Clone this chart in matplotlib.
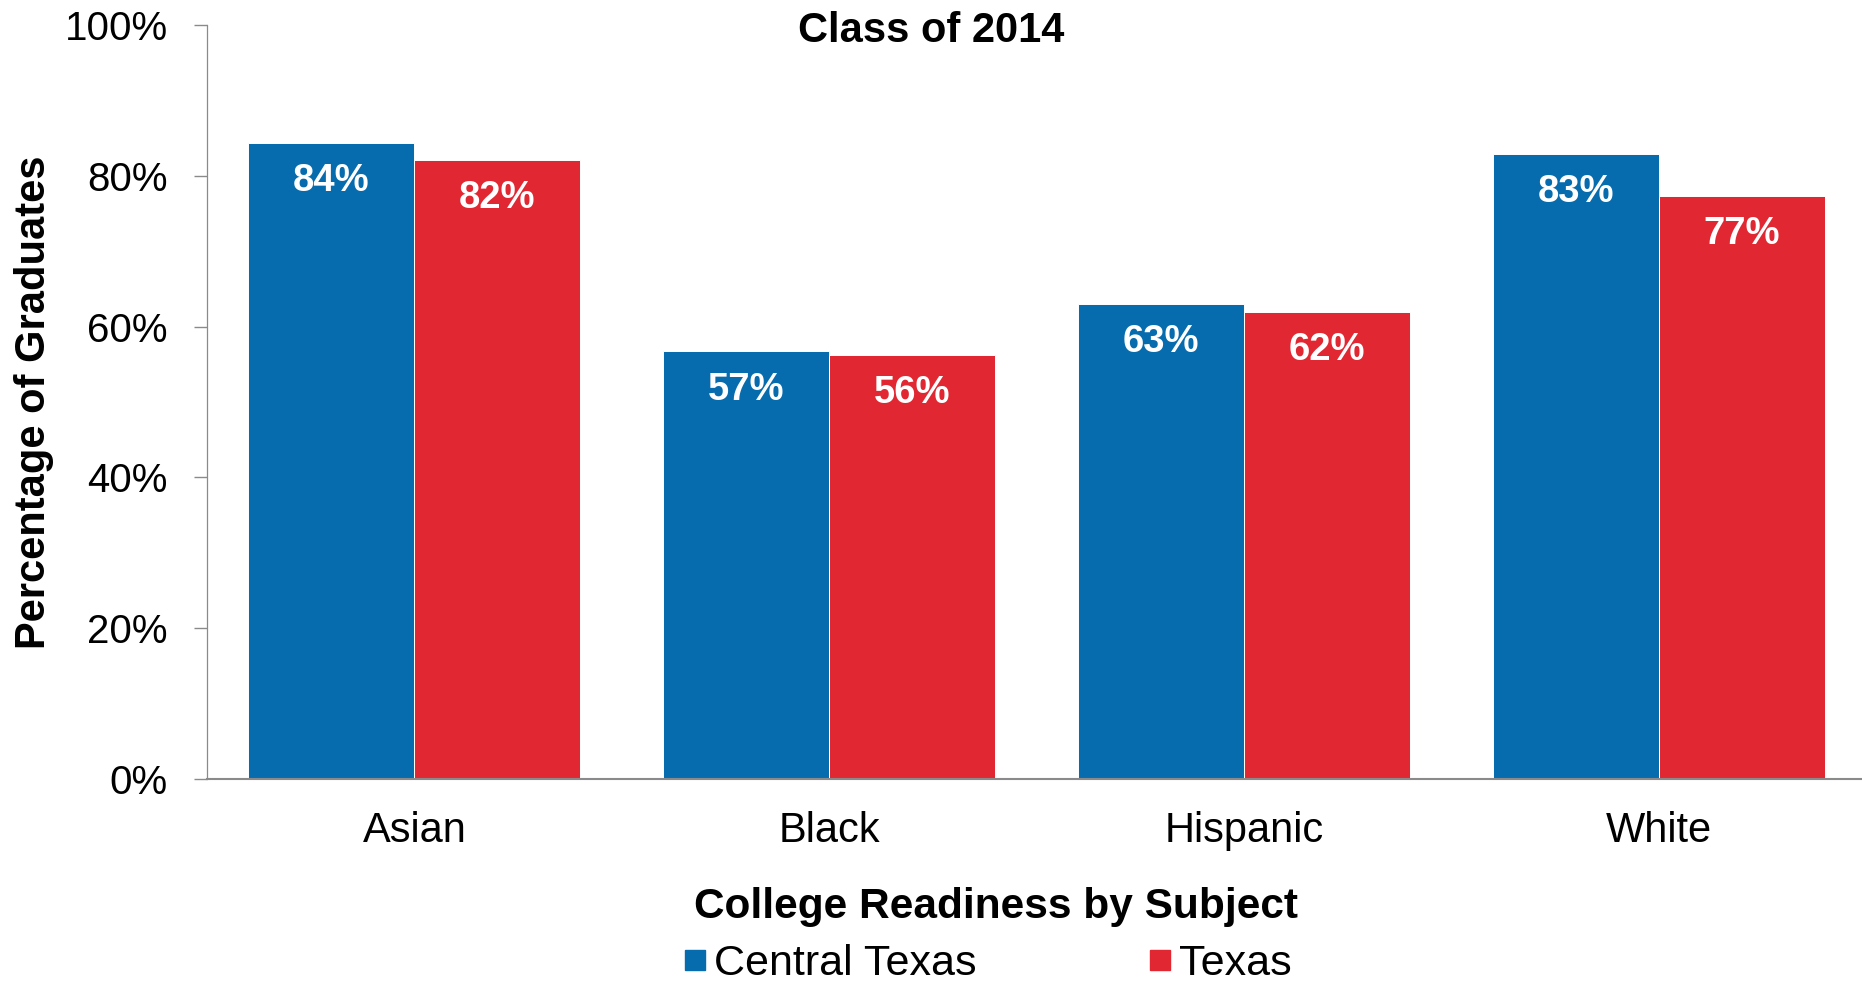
import numpy as np
import matplotlib
matplotlib.use("agg")
import matplotlib.pyplot as plt
from matplotlib.lines import Line2D

# data
groups = ["Asian", "Black", "Hispanic", "White"]
central_texas = [84.4, 56.7, 63.0, 82.9]
texas = [82.1, 56.2, 61.9, 77.3]
series_names = ["Central Texas", "Texas"]
yticks = [0, 20, 40, 60, 80, 100]

blue = "#066cae"
red = "#e12832"
gray = "#8a8a8a"

plt.rcParams["font.family"] = ["Liberation Sans", "DejaVu Sans"]

W, H = 1862, 983
fig = plt.figure(figsize=(W / 100, H / 100), dpi=100)
ax = fig.add_axes([207 / W, 1 - 779 / H, 1 - 207 / W, (779 - 25) / H])

x = np.arange(len(groups))
bw = 0.4
b1 = ax.bar(x - bw / 2, central_texas, bw, color=blue, edgecolor="white", linewidth=0.7)
b2 = ax.bar(x + bw / 2, texas, bw, color=red, edgecolor="white", linewidth=0.7)

for bars in (b1, b2):
    for rect in bars:
        v = rect.get_height()
        ax.annotate("{:.0f}%".format(v), (rect.get_x() + rect.get_width() / 2, v),
                    xytext=(0, -27.5), textcoords="offset points",
                    ha="center", va="center", color="white",
                    fontsize=27.5, fontweight="bold")

ax.set_xlim(-0.5, 3.49)
ax.set_ylim(0, 100)
ax.set_yticks(yticks)
ax.set_yticklabels(["{}%".format(t) for t in yticks])
ax.set_xticks(x)
ax.set_xticklabels(groups)

for s in ("top", "right"):
    ax.spines[s].set_visible(False)
ax.spines["left"].set_color(gray)
ax.spines["left"].set_linewidth(0.9)
ax.spines["bottom"].set_color(gray)
ax.spines["bottom"].set_linewidth(1.5)

ax.tick_params(axis="y", length=9.4, width=1.0, color=gray, pad=19, labelsize=29)
ax.tick_params(axis="x", length=0, pad=23, labelsize=30)

ax.set_ylabel("Percentage of Graduates", fontsize=30, fontweight="bold")
ax.yaxis.set_label_coords(54 / W, 1 - 402 / H, transform=fig.transFigure)

fig.text(931 / W, 1 - 42 / H, "Class of 2014", ha="center", va="baseline",
         fontsize=30, fontweight="bold")
fig.text(996 / W, 1 - 918 / H, "College Readiness by Subject", ha="center", va="baseline",
         fontsize=30.5, fontweight="bold")

handles = [Line2D([], [], linestyle="none", marker="s", markersize=15, color=c)
           for c in (blue, red)]
fig.legend(handles, series_names, loc="center", bbox_to_anchor=(988 / W, 1 - 964 / H),
           ncol=2, frameon=False, fontsize=31, handlelength=0.5, handletextpad=0.2,
           columnspacing=4.0, borderpad=0, borderaxespad=0)

fig.savefig("out.png", dpi=100)
